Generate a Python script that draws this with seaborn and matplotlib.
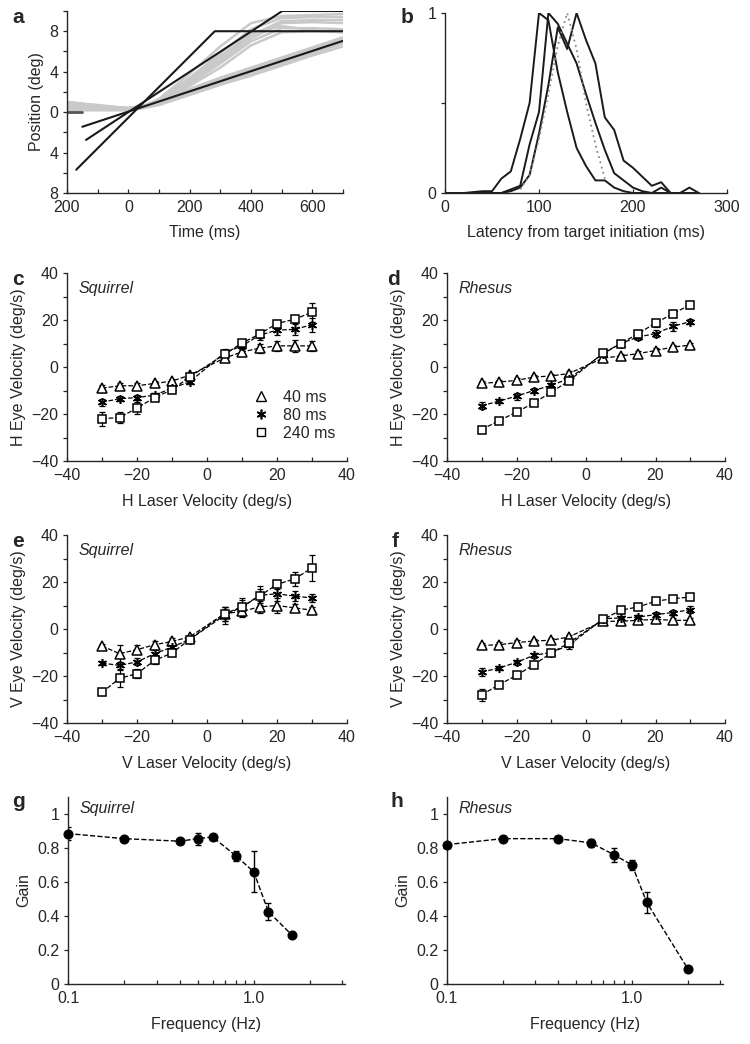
import numpy as np
import pandas as pd
import seaborn as sns
import matplotlib.pyplot as plt
from matplotlib.lines import Line2D
from matplotlib.ticker import MultipleLocator, FixedLocator, NullFormatter

sns.set_style("ticks")
plt.rcParams['font.family'] = ['Liberation Sans', 'DejaVu Sans']
plt.rcParams['font.size'] = 11
plt.rcParams['axes.linewidth'] = 1.0

# ---- panel a: eye position traces and target ramps ----
trace_t = [-200, -100, 0, 50, 100, 200, 300, 400, 500, 600, 700]
slow_traces = [
    [0.9, 0.6, 0.4, 0.6, 1.0, 2.2, 3.2, 4.2, 5.2, 6.2, 7.3],
    [0.5, 0.4, 0.3, 0.5, 0.9, 2.0, 3.0, 4.0, 5.0, 6.0, 7.0],
    [0.2, 0.2, 0.2, 0.5, 0.8, 1.8, 2.8, 3.8, 4.8, 5.8, 6.8],
    [0.7, 0.5, 0.3, 0.4, 0.7, 1.7, 2.7, 3.6, 4.6, 5.6, 6.5],
    [1.0, 0.7, 0.4, 0.6, 1.1, 2.3, 3.4, 4.4, 5.4, 6.4, 7.4],
]
fast_traces = [
    [0.8, 0.5, 0.3, 0.6, 1.3, 3.8, 6.5, 8.8, 9.5, 9.6, 9.7],
    [0.5, 0.4, 0.3, 0.5, 1.2, 3.4, 5.8, 8.2, 9.3, 9.4, 9.4],
    [0.3, 0.3, 0.2, 0.5, 1.1, 3.0, 5.2, 7.6, 9.0, 9.1, 9.1],
    [0.6, 0.4, 0.3, 0.5, 1.0, 2.8, 4.8, 7.0, 8.3, 8.3, 8.2],
    [1.0, 0.6, 0.4, 0.6, 1.2, 3.2, 5.5, 7.8, 8.5, 8.1, 7.9],
    [0.2, 0.2, 0.2, 0.4, 0.9, 2.6, 4.4, 6.6, 7.9, 8.0, 7.9],
    [0.4, 0.3, 0.3, 0.5, 1.0, 3.0, 5.0, 7.3, 8.8, 8.9, 8.8],
]
ramp30_t, ramp30_y = [-170, 282, 700], [-5.7, 8.0, 8.0]
ramp20_t, ramp20_y = [-138, 502, 700], [-2.75, 10.0, 10.0]
ramp10_t, ramp10_y = [-150, 700], [-1.45, 7.05]
fix_t, fix_y = [-200, -150], [0, 0]

# ---- panel b: latency distributions ----
lat_ms = [0, 10, 20, 30, 40, 50, 60, 70, 80, 90, 100, 110, 120, 130, 140, 150,
          160, 170, 180, 190, 200, 210, 220, 230, 240, 250, 260, 270]
lat_a = [0, 0, 0, 0.005, 0.01, 0.01, 0.08, 0.12, 0.3, 0.5, 1.0, 0.96, 0.67, 0.45,
         0.25, 0.15, 0.07, 0.07, 0.03, 0.01, 0, 0, 0, 0, 0, 0, 0, 0]
lat_b = [0, 0, 0, 0, 0, 0, 0, 0.02, 0.04, 0.27, 0.45, 1.0, 0.94, 0.83, 0.72, 0.55,
         0.39, 0.24, 0.11, 0.07, 0.03, 0.01, 0, 0.03, 0, 0, 0, 0]
lat_c = [0, 0, 0, 0, 0, 0, 0, 0.01, 0.03, 0.1, 0.33, 0.6, 0.92, 0.8, 1.0, 0.85,
         0.72, 0.42, 0.35, 0.18, 0.14, 0.09, 0.04, 0.06, 0, 0, 0.03, 0]
lat_dot_ms = [80, 90, 100, 110, 120, 130, 140, 150, 160, 170]
lat_dot = [0.02, 0.1, 0.3, 0.55, 0.82, 1.0, 0.8, 0.5, 0.27, 0.08]

# ---- panels c-f: eye vs laser velocity ----
laser_vel = [-30, -25, -20, -15, -10, -5, 5, 10, 15, 20, 25, 30]

c_tri = [-9, -8, -8, -7, -6, -3.5, 3.8, 6.4, 8, 9, 9, 9]
c_star = [-15, -13.5, -13, -12, -9, -6.4, 6, 9, 13.5, 15.7, 16, 18]
c_sq = [-22, -21.5, -17.5, -13, -9.7, -4.3, 5.4, 10.2, 14, 18.5, 20.3, 23.3]
c_tri_err = [1.5, 1, 1, 1, 1, 1, 1.5, 1.5, 2, 2, 2.5, 2]
c_star_err = [1.5, 1, 1, 1, 1, 1, 1.5, 1.5, 2, 2, 2.5, 3]
c_sq_err = [3, 2.5, 2.5, 1.5, 1.5, 1, 1, 1, 1.5, 1.5, 1.5, 4]

d_tri = [-7, -6.4, -5.7, -4.3, -3.8, -2.8, 3.8, 4.7, 5.7, 7, 8.5, 9.3]
d_star = [-16.5, -14.5, -12.4, -10, -7.8, -5, 5.7, 10, 12.8, 14.2, 17.3, 19.3]
d_sq = [-26.6, -22.8, -19.2, -15.3, -10.7, -6, 6, 10, 14.2, 18.7, 22.7, 26.5]
d_tri_err = [1, 1, 1, 1, 1, 1, 1, 1, 1, 1, 1, 1]
d_star_err = [1.5, 1, 1.5, 1, 1, 1, 1, 1, 1.5, 1.5, 2, 1]
d_sq_err = [1.5, 1, 1, 1, 1, 1, 1, 1, 1.5, 1.5, 1.5, 1.5]

e_tri = [-7.2, -10.5, -8.8, -6.7, -5.3, -3.4, 6.5, 7.5, 9.4, 10, 9, 8]
e_star = [-14.5, -15.5, -14, -10.5, -7.7, -4.5, 5.8, 9.4, 14.3, 15, 14, 13.2]
e_sq = [-27, -21, -19, -13.4, -10.2, -4.5, 6.5, 9.4, 14, 19, 21.3, 26]
e_tri_err = [1, 3.5, 2, 1.5, 1.5, 1, 3, 2.5, 2.5, 3, 1.5, 1.5]
e_star_err = [1, 1.5, 1.5, 1.5, 1.5, 1, 3.5, 3, 4, 3, 2, 1.5]
e_sq_err = [1, 3.5, 2, 1.5, 1.5, 1, 3, 4, 3, 2, 3, 5.5]

f_tri = [-7, -6.7, -5.8, -5.1, -4.8, -3.4, 3.3, 3.3, 3.7, 4.1, 3.7, 3.7]
f_star = [-18.3, -16.6, -14.2, -11.2, -10, -7, 4.4, 4.7, 5.1, 6.1, 7, 8.2]
f_sq = [-28, -23.7, -19.7, -15.2, -10.2, -6, 4.1, 8, 9.4, 11.8, 12.9, 13.6]
f_tri_err = [1, 1, 1, 1, 1, 1, 1, 1.5, 1.5, 1.5, 1, 1]
f_star_err = [1.5, 1, 1, 1, 1, 1.5, 1, 1, 1, 1, 1, 1.5]
f_sq_err = [2.5, 1, 1, 1.5, 1, 1, 1, 1, 1, 1, 1, 1]

# ---- panels g-h: gain vs frequency ----
freq_g = [0.1, 0.2, 0.4, 0.5, 0.6, 0.8, 1.0, 1.2, 1.6]
gain_g = [0.885, 0.855, 0.84, 0.855, 0.865, 0.755, 0.66, 0.425, 0.29]
gain_g_err = [0.04, 0.01, 0.015, 0.035, 0.015, 0.03, 0.12, 0.05, 0.0]
freq_h = [0.1, 0.2, 0.4, 0.6, 0.8, 1.0, 1.2, 2.0]
gain_h = [0.82, 0.855, 0.855, 0.83, 0.76, 0.70, 0.48, 0.09]
gain_h_err = [0.01, 0.01, 0.01, 0.025, 0.04, 0.03, 0.06, 0.01]

W, H = 750, 1044
TICK_FS = 11.5
LABEL_FS = 11.5


def box(l, t, r, b):
    return [l / W, 1 - b / H, (r - l) / W, (b - t) / H]


def style(ax):
    sns.despine(ax=ax)
    ax.tick_params(axis='both', which='both', labelsize=TICK_FS, length=3, width=0.9)
    ax.tick_params(axis='x', which='both', direction='in', pad=5)
    ax.tick_params(axis='y', which='both', direction='out', pad=3)


def letter(x, y, s):
    fig.text(x / W, 1 - y / H, s, fontsize=15, fontweight='bold', va='top', ha='left')


fig = plt.figure(figsize=(7.5, 10.44), dpi=100)

# ---------- a ----------
ax = fig.add_axes(box(67, 11, 343, 193))
rows = []
for i, tr in enumerate(slow_traces + fast_traces):
    for t, y in zip(trace_t, tr):
        rows.append({'t': t, 'pos': y, 'trace': i})
df_a = pd.DataFrame(rows)
sns.lineplot(data=df_a, x='t', y='pos', units='trace', estimator=None,
             color='#c9c9c9', lw=1.8, ax=ax)
for tt, yy in [(ramp30_t, ramp30_y), (ramp20_t, ramp20_y), (ramp10_t, ramp10_y)]:
    sns.lineplot(x=tt, y=yy, color='#1a1a1a', lw=1.5, ax=ax)
sns.lineplot(x=fix_t, y=fix_y, color='#555555', lw=2.0, ax=ax)
ax.set_xlim(-200, 700)
ax.set_ylim(-8, 10)
ax.set_xticks([-200, 0, 200, 400, 600])
ax.set_xticklabels(['200', '0', '200', '400', '600'])
ax.xaxis.set_minor_locator(FixedLocator([-100, 100, 300, 500, 700]))
ax.set_yticks([-8, -4, 0, 4, 8])
ax.set_yticklabels(['8', '4', '0', '4', '8'])
ax.yaxis.set_minor_locator(FixedLocator([-6, -2, 2, 6, 10]))
ax.set_xlabel('Time (ms)', fontsize=LABEL_FS, labelpad=7)
ax.set_ylabel('Position (deg)', fontsize=LABEL_FS)
style(ax)
letter(12, 8, 'a')

# ---------- b ----------
ax = fig.add_axes(box(445, 13, 727, 193))
for yy in (lat_a, lat_b, lat_c):
    sns.lineplot(x=lat_ms, y=yy, color='#1a1a1a', lw=1.4, ax=ax)
sns.lineplot(x=lat_dot_ms, y=lat_dot, color='#888888', lw=1.3, ax=ax)
ax.lines[-1].set_linestyle((0, (1, 2)))
ax.set_xlim(0, 300)
ax.set_ylim(0, 1)
ax.set_xticks([0, 100, 200, 300])
ax.set_yticks([0, 0.5, 1])
ax.set_yticklabels(['0', '', '1'])
ax.set_xlabel('Latency from target initiation (ms)', fontsize=LABEL_FS, labelpad=7)
style(ax)
letter(401, 8, 'b')


# ---------- c-f ----------
def vel_panel(rect, tri, star, sq, tri_e, star_e, sq_e, species, hv):
    ax = fig.add_axes(box(*rect))
    specs = [
        (tri, tri_e, dict(marker='^', markersize=6.5, markerfacecolor='white')),
        (star, star_e, dict(marker=(6, 2, 0), markersize=6.5, markerfacecolor='black')),
        (sq, sq_e, dict(marker='s', markersize=5.5, markerfacecolor='white')),
    ]
    for vals, errs, mk in specs:
        ax.errorbar(laser_vel, vals, yerr=errs, fmt='none', ecolor='black',
                    elinewidth=0.9, capsize=2, capthick=0.9, zorder=2)
        sns.lineplot(x=laser_vel, y=vals, color='black', lw=0.9, linestyle='--',
                     markeredgecolor='black', markeredgewidth=1.1, ax=ax, zorder=3, **mk)
    ax.set_xlim(-40, 40)
    ax.set_ylim(-40, 40)
    ax.xaxis.set_major_locator(MultipleLocator(20))
    ax.xaxis.set_minor_locator(MultipleLocator(10))
    ax.yaxis.set_major_locator(MultipleLocator(20))
    ax.yaxis.set_minor_locator(MultipleLocator(10))
    ax.set_xlabel(f'{hv} Laser Velocity (deg/s)', fontsize=LABEL_FS, labelpad=8)
    ax.set_ylabel(f'{hv} Eye Velocity (deg/s)', fontsize=LABEL_FS)
    ax.text(0.04, 0.96, species, transform=ax.transAxes, fontsize=11.5,
            fontstyle='italic', va='top', ha='left')
    style(ax)
    return ax


ax_c = vel_panel((67, 273, 347, 461), c_tri, c_star, c_sq,
                 c_tri_err, c_star_err, c_sq_err, 'Squirrel', 'H')
handles = [
    Line2D([], [], ls='none', marker='^', markersize=7, markerfacecolor='white',
           markeredgecolor='black'),
    Line2D([], [], ls='none', marker=(6, 2, 0), markersize=7, markeredgecolor='black',
           markeredgewidth=1.2),
    Line2D([], [], ls='none', marker='s', markersize=6, markerfacecolor='white',
           markeredgecolor='black'),
]
ax_c.legend(handles, ['40 ms', '80 ms', '240 ms'], loc='lower right',
            bbox_to_anchor=(1.01, 0.03), frameon=False, fontsize=11.5,
            handletextpad=0.8, labelspacing=0.2, handlelength=1.2)
letter(12, 270, 'c')

vel_panel((447, 273, 725, 461), d_tri, d_star, d_sq,
          d_tri_err, d_star_err, d_sq_err, 'Rhesus', 'H')
letter(387, 270, 'd')

vel_panel((67, 535, 347, 723), e_tri, e_star, e_sq,
          e_tri_err, e_star_err, e_sq_err, 'Squirrel', 'V')
letter(12, 532, 'e')

vel_panel((447, 535, 725, 723), f_tri, f_star, f_sq,
          f_tri_err, f_star_err, f_sq_err, 'Rhesus', 'V')
letter(392, 532, 'f')


# ---------- g-h ----------
def gain_panel(rect, freq, gain, err, species):
    ax = fig.add_axes(box(*rect))
    ax.errorbar(freq, gain, yerr=err, fmt='none', ecolor='black', elinewidth=1.0,
                capsize=2.5, capthick=1.0, zorder=2)
    sns.lineplot(x=freq, y=gain, color='black', lw=1.0, linestyle='--', marker='o',
                 markersize=6.5, markerfacecolor='black', markeredgecolor='black',
                 ax=ax, zorder=3, clip_on=False)
    ax.set_xscale('log')
    ax.set_xlim(0.1, 3.1)
    ax.set_ylim(0, 1.1)
    ax.set_xticks([0.1, 1.0])
    ax.set_xticklabels(['0.1', '1.0'])
    ax.xaxis.set_minor_locator(FixedLocator([0.2, 0.3, 0.4, 0.5, 0.6, 0.7, 0.8, 0.9, 2, 3]))
    ax.xaxis.set_minor_formatter(NullFormatter())
    ax.set_yticks([0, 0.2, 0.4, 0.6, 0.8, 1.0])
    ax.set_yticklabels(['0', '0.2', '0.4', '0.6', '0.8', '1'])
    ax.set_xlabel('Frequency (Hz)', fontsize=LABEL_FS, labelpad=8)
    ax.set_ylabel('Gain', fontsize=LABEL_FS)
    ax.text(0.04, 0.98, species, transform=ax.transAxes, fontsize=11.5,
            fontstyle='italic', va='top', ha='left')
    style(ax)
    return ax


gain_panel((68, 797, 345, 984), freq_g, gain_g, gain_g_err, 'Squirrel')
letter(12, 792, 'g')
gain_panel((447, 797, 723, 984), freq_h, gain_h, gain_h_err, 'Rhesus')
letter(390, 792, 'h')

fig.savefig('out.png', dpi=100)
plt.close(fig)
